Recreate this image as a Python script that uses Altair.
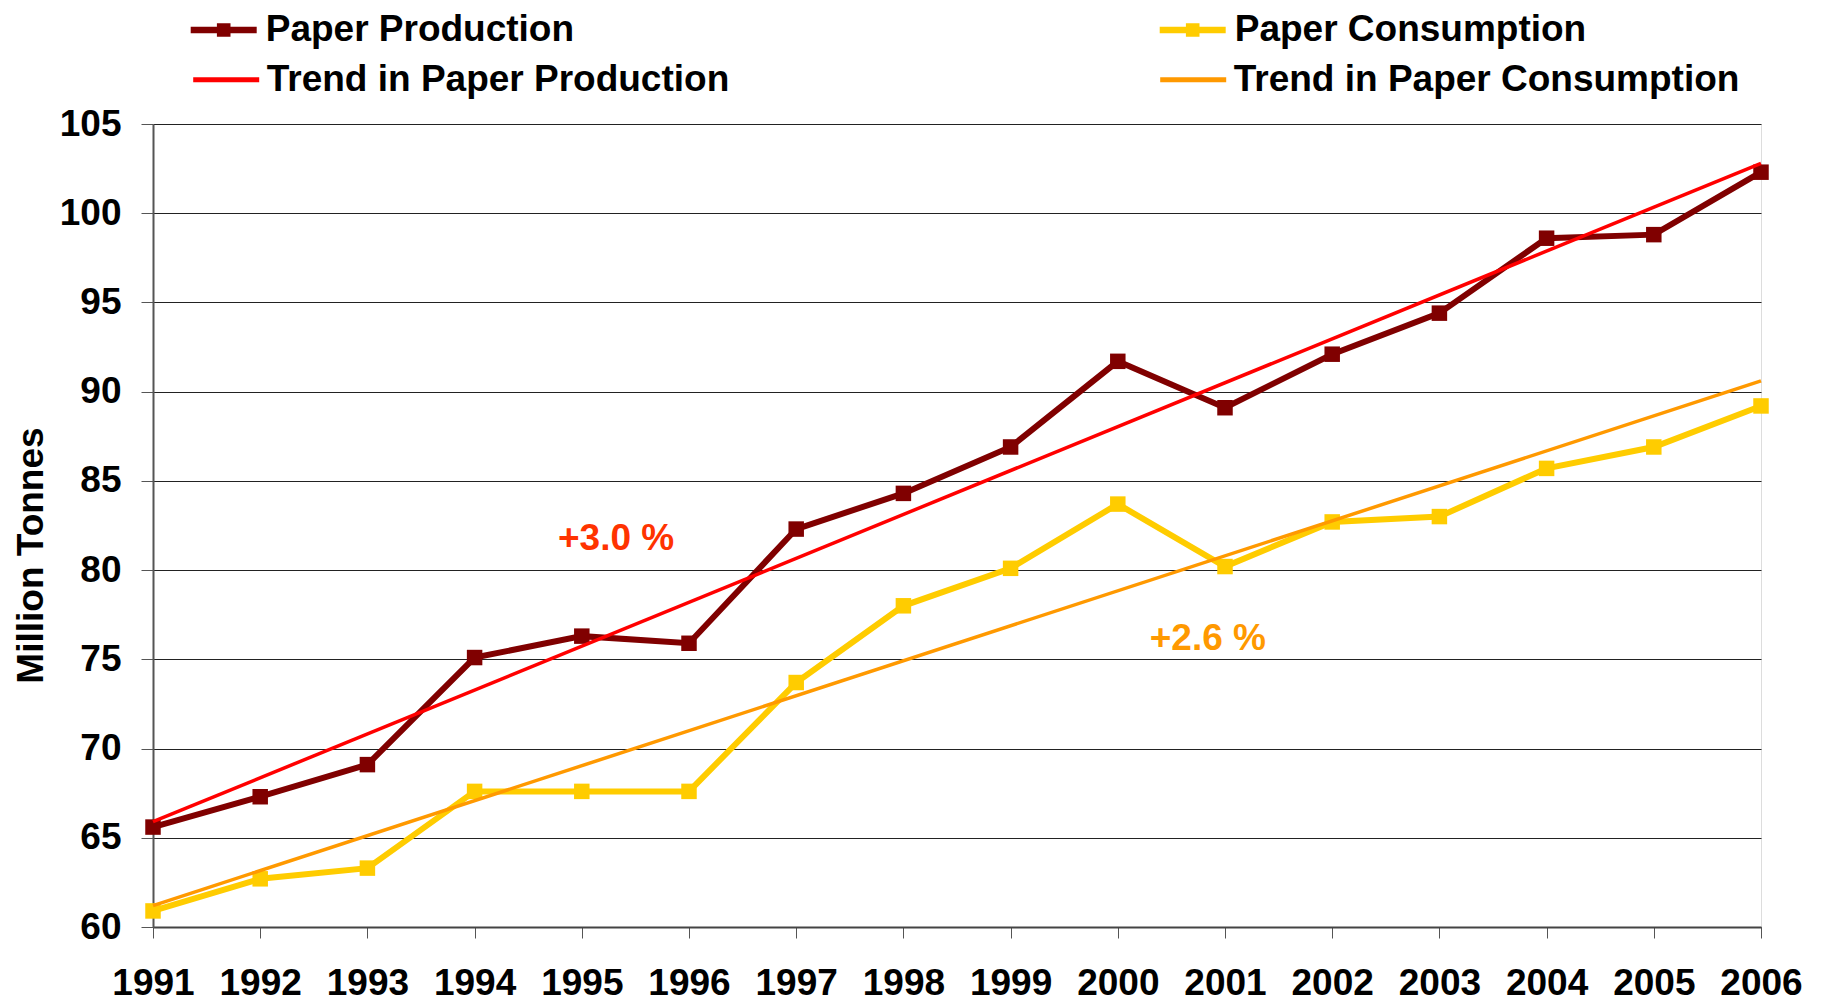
import altair as alt
import pandas as pd

# ---- data ----
years = list(range(1991, 2007))
production = [65.6, 67.3, 69.1, 75.1, 76.3, 75.9, 82.3, 84.3, 86.9, 91.7,
              89.1, 92.1, 94.4, 98.6, 98.8, 102.3]
consumption = [60.9, 62.7, 63.3, 67.6, 67.6, 67.6, 73.7, 78.0, 80.1, 83.7,
               80.2, 82.7, 83.0, 85.7, 86.9, 89.2]

trend_years = [1991, 2006]
trend_production = [65.9, 102.8]
trend_consumption = [61.2, 90.6]

series_names = ["Paper Production", "Paper Consumption"]
trend_names = ["Trend in Paper Production", "Trend in Paper Consumption"]
series_colors = ["#800000", "#FFCC00"]
trend_colors = ["#FF0000", "#FF9900"]

note_text = ["+3.0 %", "+2.6 %"]
note_year = [1995.32, 2000.84]
note_value = [81.1, 75.55]
note_colors = ["#FF3300", "#FF9900"]

y_ticks = [60, 65, 70, 75, 80, 85, 90, 95, 100, 105]

# ---- tables ----
n = len(years)
series_df = pd.DataFrame({
    "year": years * 2,
    "value": production + consumption,
    "series": [series_names[0]] * n + [series_names[1]] * n,
    "line_color": [series_colors[0]] * n + [series_colors[1]] * n,
})
trend_df = pd.DataFrame({
    "year": trend_years * 2,
    "value": trend_production + trend_consumption,
    "trend": [trend_names[0]] * 2 + [trend_names[1]] * 2,
})
notes_df = pd.DataFrame({"text": note_text, "year": note_year,
                         "value": note_value, "color": note_colors})

FONT = "Liberation Sans"
FS = 37

x_enc = alt.X("year:Q",
              scale=alt.Scale(domain=[1991, 2006], nice=False, zero=False),
              axis=alt.Axis(values=years, format="d", grid=False, title=None,
                            tickSize=11, tickColor="#555", domainColor="#444",
                            domainWidth=2, labelFont=FONT, labelFontWeight="bold",
                            labelFontSize=FS, labelColor="black", labelPadding=27,
                            labelOverlap=False, labelFlush=False))
y_enc = alt.Y("value:Q",
              scale=alt.Scale(domain=[60, 105], nice=False, zero=False),
              axis=alt.Axis(values=y_ticks, grid=True, gridColor="#222", gridWidth=1,
                            tickSize=12, tickColor="#555", domainColor="#555",
                            domainWidth=2, labelFont=FONT, labelFontWeight="bold",
                            labelFontSize=FS, labelColor="black", labelPadding=20,
                            title="Million Tonnes", titleFont=FONT,
                            titleFontWeight="bold", titleFontSize=FS,
                            titleColor="black", titleAngle=270,
                            titleBaseline="alphabetic", titleAlign="center",
                            titleX=-111, titleY=431))

series_scale = alt.Scale(domain=series_names, range=series_colors)
trend_scale = alt.Scale(domain=trend_names, range=trend_colors)

lines = alt.Chart(series_df).mark_line(strokeWidth=6).encode(
    x=x_enc, y=y_enc,
    color=alt.Color("line_color:N", scale=None),
    detail="series:N",
)

sym_a = ("M-1.65,-0.16H1.65V0.16H-1.65Z"
         "M-0.34,-0.34H0.34V0.34H-0.34Z")
points = alt.Chart(series_df).mark_point(
    shape="square", filled=True, size=240, opacity=1, strokeWidth=0
).encode(
    x="year:Q", y="value:Q",
    fill=alt.Fill("series:N", scale=series_scale,
                  legend=alt.Legend(orient="none", legendX=50.7, legendY=-114,
                                    direction="horizontal", columns=2,
                                    columnPadding=585, title=None, padding=0,
                                    labelFont=FONT, labelFontWeight="bold",
                                    labelFontSize=FS, labelColor="black",
                                    labelLimit=1000, labelOffset=22,
                                    symbolType=sym_a, symbolSize=1600,
                                    symbolStrokeWidth=0, symbolOpacity=1)),
)

trends = alt.Chart(trend_df).mark_line(strokeWidth=3.5).encode(
    x="year:Q", y="value:Q",
    stroke=alt.Stroke("trend:N", scale=trend_scale,
                      legend=alt.Legend(orient="none", legendX=50.7, legendY=-67,
                                        direction="horizontal", columns=2,
                                        columnPadding=420, title=None, padding=0,
                                        labelFont=FONT, labelFontWeight="bold",
                                        labelFontSize=FS, labelColor="black",
                                        labelLimit=1000, labelOffset=18,
                                        symbolType="M-1.65,0H1.65", symbolSize=1600,
                                        symbolStrokeWidth=5)),
)

notes = alt.Chart(notes_df).mark_text(
    font=FONT, fontWeight="bold", fontSize=FS, align="center",
    baseline="alphabetic"
).encode(
    x="year:Q", y="value:Q", text="text:N",
    color=alt.Color("color:N", scale=None),
)

chart = alt.layer(lines, points, trends, notes).properties(
    width=1608, height=803,
    autosize=alt.AutoSizeParams(type="none"),
    padding={"left": 145, "top": 116, "right": 45, "bottom": 74},
).configure_view(stroke="#888", strokeWidth=2).configure(background="white")

chart.save("out.html", embed_options={"renderer": "svg", "actions": False})
